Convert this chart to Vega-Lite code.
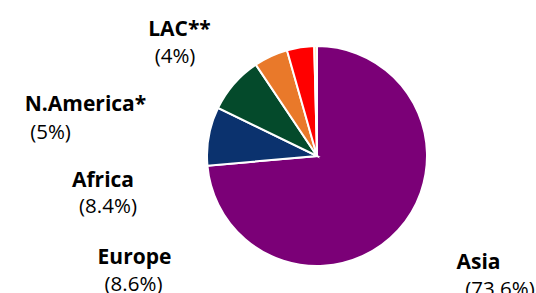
{
  "$schema": "https://vega.github.io/schema/vega-lite/v6.json",
  "width": 220,
  "height": 220,
  "autosize": {"type": "none"},
  "padding": {"left": 207, "top": 46, "right": 109, "bottom": 27},
  "background": "white",
  "data": {
    "values": [
      {"region": "Asia", "name": "Asia", "share": 73.6, "pct": "(73.6%)"},
      {"region": "Europe", "name": "Europe", "share": 8.6, "pct": "(8.6%)"},
      {"region": "Africa", "name": "Africa", "share": 8.4, "pct": "(8.4%)"},
      {"region": "N.America", "name": "N.America*", "share": 5.0, "pct": "(5%)"},
      {"region": "LAC", "name": "LAC**", "share": 4.0, "pct": "(4%)"},
      {"region": "Other", "name": "", "share": 0.4, "pct": ""}
    ]
  },
  "layer": [
    {
      "mark": {"type": "arc", "stroke": "white", "strokeWidth": 2},
      "encoding": {
        "theta": {"field": "share", "type": "quantitative", "stack": true},
        "order": {"field": "share", "type": "quantitative", "sort": "descending"},
        "color": {
          "field": "region",
          "type": "nominal",
          "scale": {
            "domain": ["Asia", "Europe", "Africa", "N.America", "LAC", "Other"],
            "range": ["#7B0077", "#0B326E", "#044A2B", "#E9792A", "#FF0000", "#FFE699"]
          },
          "legend": null
        }
      }
    },
    {
      "transform": [{"filter": {"field": "region", "equal": "Asia"}}],
      "layer": [
        {"mark": {"type": "text", "font": "Open Sans", "fontSize": 21, "fontWeight": "bold", "color": "black", "baseline": "middle", "dx": 161.5, "dy": 106.5}, "encoding": {"text": {"field": "name"}}},
        {"mark": {"type": "text", "font": "Open Sans", "fontSize": 20.5, "color": "black", "baseline": "middle", "dx": 183, "dy": 134}, "encoding": {"text": {"field": "pct"}}}
      ]
    },
    {
      "transform": [{"filter": {"field": "region", "equal": "Europe"}}],
      "layer": [
        {"mark": {"type": "text", "font": "Open Sans", "fontSize": 21, "fontWeight": "bold", "color": "black", "baseline": "middle", "dx": -182.5, "dy": 101.5}, "encoding": {"text": {"field": "name"}}},
        {"mark": {"type": "text", "font": "Open Sans", "fontSize": 20.5, "color": "black", "baseline": "middle", "dx": -183.5, "dy": 129}, "encoding": {"text": {"field": "pct"}}}
      ]
    },
    {
      "transform": [{"filter": {"field": "region", "equal": "Africa"}}],
      "layer": [
        {"mark": {"type": "text", "font": "Open Sans", "fontSize": 21, "fontWeight": "bold", "color": "black", "baseline": "middle", "dx": -214, "dy": 25}, "encoding": {"text": {"field": "name"}}},
        {"mark": {"type": "text", "font": "Open Sans", "fontSize": 20.5, "color": "black", "baseline": "middle", "dx": -209, "dy": 51}, "encoding": {"text": {"field": "pct"}}}
      ]
    },
    {
      "transform": [{"filter": {"field": "region", "equal": "N.America"}}],
      "layer": [
        {"mark": {"type": "text", "font": "Open Sans", "fontSize": 21, "fontWeight": "bold", "color": "black", "baseline": "middle", "dx": -231.5, "dy": -51}, "encoding": {"text": {"field": "name"}}},
        {"mark": {"type": "text", "font": "Open Sans", "fontSize": 20.5, "color": "black", "baseline": "middle", "dx": -266.5, "dy": -23}, "encoding": {"text": {"field": "pct"}}}
      ]
    },
    {
      "transform": [{"filter": {"field": "region", "equal": "LAC"}}],
      "layer": [
        {"mark": {"type": "text", "font": "Open Sans", "fontSize": 21, "fontWeight": "bold", "color": "black", "baseline": "middle", "dx": -137.5, "dy": -126}, "encoding": {"text": {"field": "name"}}},
        {"mark": {"type": "text", "font": "Open Sans", "fontSize": 20.5, "color": "black", "baseline": "middle", "dx": -142, "dy": -99}, "encoding": {"text": {"field": "pct"}}}
      ]
    }
  ],
  "config": {"view": {"stroke": null}}
}
